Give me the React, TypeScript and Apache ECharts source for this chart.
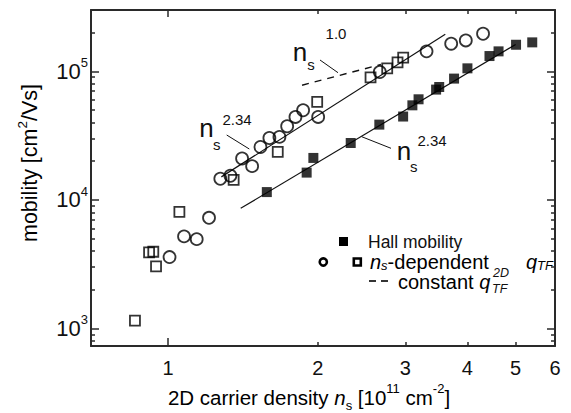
import React, { useEffect, useRef } from "react";
import * as echarts from "echarts";

// ---- data ----
const hallX = [1.58, 1.9, 1.96, 2.33, 2.66, 2.97, 3.1, 3.19, 3.46, 3.51, 3.76, 4.0, 4.43, 4.62, 5.01, 5.4];
const hallY = [11500, 16300, 21200, 27700, 38500, 44500, 54400, 60600, 72100, 75500, 87800, 105500, 131500, 143000, 161000, 168000];

const circX = [1.007, 1.077, 1.142, 1.209, 1.274, 1.335, 1.409, 1.476, 1.534, 1.599, 1.675, 1.736, 1.804, 1.869, 2.004, 2.666, 3.31, 3.71, 3.97, 4.3];
const circY = [3590, 5200, 4950, 7250, 14600, 15400, 21000, 18300, 25800, 30300, 30900, 37400, 44200, 49800, 44200, 98800, 143000, 164000, 174000, 196000];

const openSqX = [0.858, 0.916, 0.934, 0.946, 1.054, 1.355, 1.662, 1.995, 2.554, 2.759, 2.894, 2.971];
const openSqY = [1150, 3900, 3950, 3040, 8070, 14300, 23600, 57800, 89800, 105500, 117500, 127800];

const fitUpperX = [1.28, 3.61];
const fitUpperY = [15100, 194000];
const fitLowerX = [1.4, 5.0];
const fitLowerY = [8600, 162000];
const constQX = [1.86, 2.68];
const constQY = [78000, 113000];

// ---- axis ticks ----
const xMin = 0.7;
const xMax = 6;
const yMin = 730;
const yMax = 300000;
const xMajorTicks = [1];
const xMinorTicks = [2, 3, 4, 5];
const xTickLabels = [1, 2, 3, 4, 5, 6];
const yMajorTicks = [1000, 10000, 100000];
const yMinorTicks = [800, 900, 2000, 3000, 4000, 5000, 6000, 7000, 8000, 9000, 20000, 30000, 40000, 50000, 60000, 70000, 80000, 90000, 200000];

const FONT = "Liberation Sans, Arial, sans-serif";
const INK = "#111";
const FRAME = "#2a2a2a";
const lg = (v: number) => Math.log10(v);
const zip = (a: number[], b: number[]) => a.map((v, i) => [v, b[i]]);

function helperX(position: string, ticks: number[], len: number, line: boolean, labels?: number[]) {
  return {
    type: "value",
    position,
    min: lg(xMin),
    max: lg(xMax),
    axisLine: { show: line, onZero: false, lineStyle: { color: FRAME, width: 2 } },
    splitLine: { show: false },
    axisTick: { show: true, inside: true, length: len, customValues: ticks.map(lg), lineStyle: { color: FRAME, width: 1.5 } },
    axisLabel: labels
      ? {
          show: true,
          customValues: labels.map(lg),
          margin: 12,
          formatter: (v: number) => String(Math.round(Math.pow(10, v))),
          fontFamily: FONT,
          fontSize: 20,
          color: INK,
        }
      : { show: false },
  };
}

function helperY(position: string, ticks: number[], len: number, line: boolean, labels?: number[]) {
  return {
    type: "value",
    position,
    min: lg(yMin),
    max: lg(yMax),
    axisLine: { show: line, onZero: false, lineStyle: { color: FRAME, width: 2 } },
    splitLine: { show: false },
    axisTick: { show: true, inside: true, length: len, customValues: ticks.map(lg), lineStyle: { color: FRAME, width: 1.5 } },
    axisLabel: labels
      ? {
          show: true,
          customValues: labels.map(lg),
          margin: 3,
          formatter: (v: number) => `{b|10}{s|${Math.round(v)}}`,
          rich: {
            b: { fontFamily: FONT, fontSize: 22, color: INK, lineHeight: 30 },
            s: { fontFamily: FONT, fontSize: 13, color: INK, verticalAlign: "top", lineHeight: 17 },
          },
        }
      : { show: false },
  };
}

const richX = {
  t: { fontFamily: FONT, fontSize: 20.5, color: INK, lineHeight: 30 },
  i: { fontFamily: FONT, fontSize: 20.5, color: INK, fontStyle: "italic", lineHeight: 30 },
  sup: { fontFamily: FONT, fontSize: 13, color: INK, verticalAlign: "top", lineHeight: 18 },
  sub: { fontFamily: FONT, fontSize: 13, color: INK, verticalAlign: "bottom", lineHeight: 18 },
};
const richY = {
  t: { fontFamily: FONT, fontSize: 21.5, color: INK, lineHeight: 30 },
  sup: { fontFamily: FONT, fontSize: 13.5, color: INK, verticalAlign: "top", lineHeight: 18 },
};

function annotation(nx: number, ny: number, sx: number, sy: number, ex: number, ey: number, exp: string, l: number[]) {
  return [
    { type: "text", x: nx, y: ny, style: { text: "n", font: `26px ${FONT}`, fill: INK, align: "center", verticalAlign: "middle" } },
    { type: "text", x: sx, y: sy, style: { text: "s", font: `15px ${FONT}`, fill: INK, align: "center", verticalAlign: "middle" } },
    { type: "text", x: ex, y: ey, style: { text: exp, font: `15px ${FONT}`, fill: INK, align: "center", verticalAlign: "middle" } },
    { type: "line", shape: { x1: l[0], y1: l[1], x2: l[2], y2: l[3] }, style: { stroke: INK, lineWidth: 1 } },
  ];
}

const legendRich = {
  t: { fontFamily: FONT, fontSize: 20, color: INK, lineHeight: 19 },
  i: { fontFamily: FONT, fontSize: 20, color: INK, fontStyle: "italic", lineHeight: 19 },
  isub: { fontFamily: FONT, fontSize: 13, color: INK, fontStyle: "italic", verticalAlign: "bottom", lineHeight: 4 },
};

const option = {
  animation: false,
  backgroundColor: "#fff",
  grid: { left: 91, right: 16, top: 10, bottom: 67, containLabel: false, outerBoundsMode: "none" },
  xAxis: [
    {
      type: "log",
      logBase: 10,
      min: xMin,
      max: xMax,
      position: "bottom",
      axisLine: { show: true, onZero: false, lineStyle: { color: FRAME, width: 2 } },
      axisTick: { show: false },
      axisLabel: { show: false },
      splitLine: { show: false },
      minorTick: { show: false },
    },
    helperX("bottom", xMajorTicks, 8, false, xTickLabels),
    helperX("bottom", xMinorTicks, 4, false),
    helperX("top", xMajorTicks, 7, true),
    helperX("top", xMinorTicks, 4, false),
  ],
  yAxis: [
    {
      type: "log",
      logBase: 10,
      min: yMin,
      max: yMax,
      position: "left",
      axisLine: { show: true, onZero: false, lineStyle: { color: FRAME, width: 2 } },
      axisTick: { show: false },
      axisLabel: { show: false },
      splitLine: { show: false },
      minorTick: { show: false },
    },
    helperY("left", yMajorTicks, 8, false, yMajorTicks),
    helperY("left", yMinorTicks, 4, false),
    helperY("right", yMajorTicks, 8, true),
    helperY("right", yMinorTicks, 4, false),
  ],
  series: [
    {
      name: "fit upper",
      type: "line",
      data: zip(fitUpperX, fitUpperY),
      showSymbol: false,
      symbol: "none",
      lineStyle: { color: INK, width: 1.2 },
      z: 1,
    },
    {
      name: "fit lower",
      type: "line",
      data: zip(fitLowerX, fitLowerY),
      showSymbol: false,
      symbol: "none",
      lineStyle: { color: INK, width: 1.2 },
      z: 1,
    },
    {
      name: "constant qTF",
      type: "line",
      data: zip(constQX, constQY),
      showSymbol: false,
      symbol: "none",
      lineStyle: { color: INK, width: 1.4, type: [7, 6] },
      z: 1,
    },
    {
      name: "Hall mobility",
      type: "scatter",
      data: zip(hallX, hallY),
      symbol: "rect",
      symbolSize: 10,
      itemStyle: { color: "#000" },
      z: 3,
    },
    {
      name: "ns-dependent (circles)",
      type: "scatter",
      data: zip(circX, circY),
      symbol: "circle",
      symbolSize: 12,
      itemStyle: { color: "rgba(0,0,0,0)", borderColor: "#000", borderWidth: 1.8 },
      z: 3,
    },
    {
      name: "ns-dependent (squares)",
      type: "scatter",
      data: zip(openSqX, openSqY),
      symbol: "rect",
      symbolSize: 10,
      itemStyle: { color: "rgba(0,0,0,0)", borderColor: "#000", borderWidth: 1.8 },
      z: 3,
    },
  ],
  graphic: [
    // axis titles
    {
      type: "text",
      x: 309,
      y: 397,
      style: {
        text: "{t|2D carrier density }{i|n}{sub|s}{t| [10}{sup|11}{t| cm}{sup|-2}{t|]}",
        rich: richX,
        align: "center",
        verticalAlign: "middle",
      },
    },
    {
      type: "text",
      x: 30,
      y: 163,
      rotation: Math.PI / 2,
      style: {
        text: "{t|mobility [cm}{sup|2}{t|/Vs]}",
        rich: richY,
        align: "center",
        verticalAlign: "middle",
      },
    },
    // annotations
    ...annotation(300, 52, 311, 64, 336, 33, "1.0", [320, 60, 338, 72.7]),
    ...annotation(206.5, 128, 216.7, 144, 237, 119, "2.34", [226.7, 135, 249.3, 149]),
    ...annotation(404, 151, 413.7, 166, 432, 140, "2.34", [361.7, 136.7, 391, 148.3]),
    // legend
    { type: "rect", shape: { x: 339, y: 237, width: 9, height: 9 }, style: { fill: "#000" } },
    {
      type: "text",
      x: 368,
      y: 242,
      style: { text: "Hall mobility", font: `17.5px ${FONT}`, fill: INK, verticalAlign: "middle" },
    },
    { type: "circle", shape: { cx: 323.3, cy: 262, r: 3.6 }, style: { fill: "none", stroke: "#000", lineWidth: 2.6 } },
    { type: "rect", shape: { x: 353.8, y: 258.5, width: 7, height: 7 }, style: { fill: "none", stroke: "#000", lineWidth: 2.6 } },
    {
      type: "text",
      x: 370,
      y: 262,
      style: { text: "{i|n}{isub|s}{t|-dependent}", rich: legendRich, verticalAlign: "middle" },
    },
    {
      type: "text",
      x: 526,
      y: 262,
      style: { text: "{i|q}{isub|TF}", rich: legendRich, verticalAlign: "middle" },
    },
    { type: "line", shape: { x1: 369, y1: 281, x2: 376, y2: 281 }, style: { stroke: "#000", lineWidth: 1.6 } },
    { type: "line", shape: { x1: 381, y1: 281, x2: 388, y2: 281 }, style: { stroke: "#000", lineWidth: 1.6 } },
    {
      type: "text",
      x: 398,
      y: 282,
      style: { text: "{t|constant }{i|q}", rich: legendRich, verticalAlign: "middle" },
    },
    { type: "text", x: 493, y: 273, style: { text: "2D", font: `italic 12.5px ${FONT}`, fill: INK, verticalAlign: "middle" } },
    { type: "text", x: 492, y: 289, style: { text: "TF", font: `italic 12.5px ${FONT}`, fill: INK, verticalAlign: "middle" } },
  ],
};

export default function App() {
  const ref = useRef<HTMLDivElement>(null);
  useEffect(() => {
    const chart = echarts.init(ref.current!, null, { renderer: "svg" });
    chart.setOption(option as any);
    return () => chart.dispose();
  }, []);
  return <div ref={ref} style={{ position: "fixed", left: 0, top: 0, width: 571, height: 413 }} />;
}
